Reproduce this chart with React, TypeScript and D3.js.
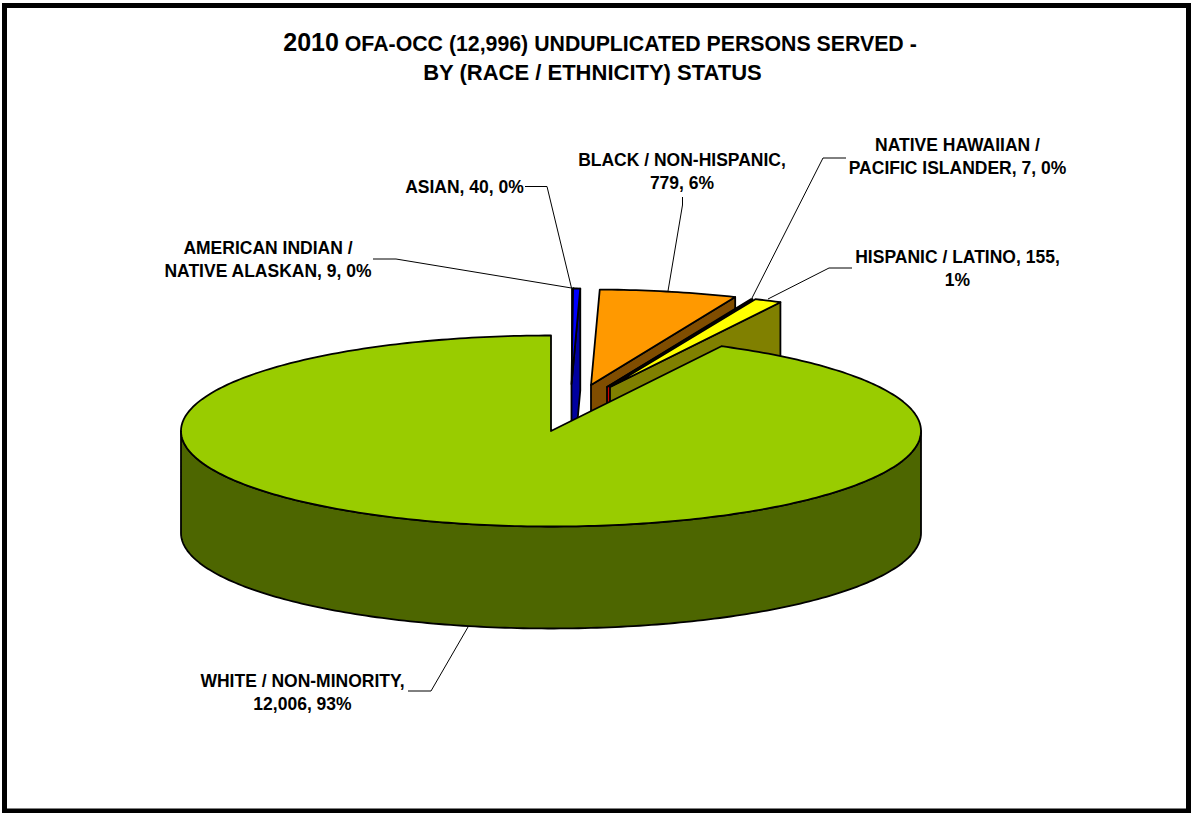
import React from "react";
import * as d3 from "d3";

// Persons served, by group, in the order the slices run clockwise from twelve o'clock
const groups = [
  "AMERICAN INDIAN / NATIVE ALASKAN",
  "ASIAN",
  "BLACK / NON-HISPANIC",
  "NATIVE HAWAIIAN / PACIFIC ISLANDER",
  "HISPANIC / LATINO",
  "WHITE / NON-MINORITY",
];
const persons = [9, 40, 779, 7, 155, 12006];
const topColors = ["#800000", "#0000ff", "#ff9900", "#e00000", "#ffff00", "#99cc00"];
const sideColors = ["#400000", "#0000a0", "#804d00", "#d00000", "#808000", "#4d6600"];

const labelLines = [
  ["AMERICAN INDIAN /", "NATIVE ALASKAN, 9, 0%"],
  ["ASIAN, 40, 0%"],
  ["BLACK / NON-HISPANIC,", "779, 6%"],
  ["NATIVE HAWAIIAN /", "PACIFIC ISLANDER, 7, 0%"],
  ["HISPANIC / LATINO, 155,", "1%"],
  ["WHITE / NON-MINORITY,", "12,006, 93%"],
];

// Geometry of the tilted pie
const CX = 551;
const CY = 431;
const RX = 370;
const RY = 95.5;
const DEPTH = 102;
// How far each slice is pulled away from the pie's centre
const pull: [number, number][] = [
  [21, -47],
  [20.5, -47],
  [40, -46],
  [56, -44],
  [59, -44],
  [0, 0],
];
// Label centre, first baseline and leader polyline for each slice
const labelLayout: { x: number; y: number; leader: [number, number][] }[] = [
  { x: 268, y: 253.5, leader: [[373, 259], [396, 259], [571.5, 288]] },
  { x: 464.5, y: 192.5, leader: [[525, 186.5], [547, 186.5], [571.5, 288]] },
  { x: 682, y: 166, leader: [[682.5, 197], [682.5, 205], [668, 291]] },
  { x: 957.5, y: 151, leader: [[846, 158], [823, 158], [752, 298]] },
  { x: 957.5, y: 262.5, leader: [[852, 268], [829, 268], [768, 299]] },
  { x: 302.5, y: 686.5, leader: [[408, 691], [431, 691], [468, 627]] },
];

const FONT = "'Liberation Sans', Arial, sans-serif";

const rim = (a: number, dx: number, dy: number): [number, number] => [
  CX + dx + RX * Math.sin(a),
  CY + dy - RY * Math.cos(a),
];

const arcPoints = (a0: number, a1: number, dx: number, dy: number) =>
  d3.range(0, 1.0001, 1 / Math.max(2, Math.ceil(Math.abs(a1 - a0) * 60))).map((t) =>
    rim(a0 + (a1 - a0) * t, dx, dy),
  );

const closed = d3.line();

export default function App() {
  const arcs = d3.pie<number>().sort(null)(persons);

  return (
    <svg
      width={1192}
      height={813}
      viewBox="0 0 1192 813"
      style={{ position: "absolute", left: 0, top: 0, display: "block" }}
    >
      <rect x={0} y={0} width={1192} height={813} fill="#ffffff" />
      <rect x={4.5} y={5.5} width={1184} height={805.5} fill="none" stroke="#000" strokeWidth={5} />

      <text x={600} y={51} textAnchor="middle" fontFamily={FONT} fontWeight="bold" fontSize={21.3} fill="#000">
        <tspan fontSize={25}>2010</tspan> OFA-OCC (12,996) UNDUPLICATED PERSONS SERVED -
      </text>
      <text x={592.5} y={80} textAnchor="middle" fontFamily={FONT} fontWeight="bold" fontSize={22} fill="#000">
        BY (RACE / ETHNICITY) STATUS
      </text>

      {arcs.map((arc, i) => {
        const [dx, dy] = pull[i];
        const a0 = arc.startAngle;
        const a1 = arc.endAngle;
        const apex: [number, number] = [CX + dx, CY + dy];
        const end = rim(a1, dx, dy);
        const top = [apex, ...arcPoints(a0, a1, dx, dy)] as [number, number][];
        const isFront = a1 > Math.PI;
        const stroke = { stroke: "#000", strokeWidth: 1.8, strokeLinejoin: "round" as const };

        return (
          <g key={groups[i]}>
            {!isFront && (
              <path
                d={closed([apex, end, [end[0], end[1] + DEPTH], [apex[0], apex[1] + DEPTH]])! + "Z"}
                fill={sideColors[i]}
                {...stroke}
              />
            )}
            {isFront && (
              <path
                d={
                  closed([
                    ...arcPoints(Math.PI / 2, (3 * Math.PI) / 2, dx, dy),
                    ...arcPoints((3 * Math.PI) / 2, Math.PI / 2, dx, dy + DEPTH),
                  ])! + "Z"
                }
                fill={sideColors[i]}
                {...stroke}
              />
            )}
            <path d={closed(top)! + "Z"} fill={topColors[i]} {...stroke} />
          </g>
        );
      })}

      {labelLayout.map((l, i) => (
        <g key={groups[i]}>
          <path d={closed(l.leader)!} fill="none" stroke="#000" strokeWidth={1} />
          {labelLines[i].map((line, k) => (
            <text
              key={line}
              x={l.x}
              y={l.y + k * 23.3}
              textAnchor="middle"
              fontFamily={FONT}
              fontWeight="bold"
              fontSize={17.5}
              fill="#000"
            >
              {line}
            </text>
          ))}
        </g>
      ))}
    </svg>
  );
}
